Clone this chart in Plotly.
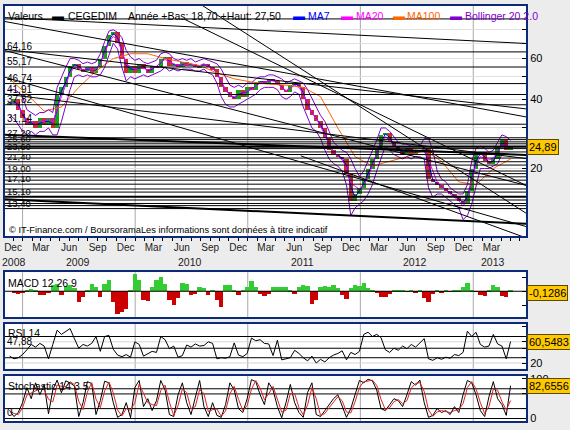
import math
import pandas as pd
import plotly.graph_objects as go

# ---------------- data ----------------
dates = pd.date_range("2008-11-20", periods=117, freq="14D")

close = [38, 40, 36, 33, 31, 32, 30, 33, 31, 33,
         30, 42, 45, 50, 56, 57, 54, 53, 55, 52,
         55, 60, 68, 76, 78, 70, 60, 52, 56, 52,
         57, 54, 52, 56, 55, 60, 61, 56, 57, 55,
         58, 56, 57, 55, 56, 57, 55, 54, 50, 45,
         43, 41, 40, 44, 41, 45, 44, 47, 48, 47,
         49, 48, 46, 44, 43, 46, 47, 45, 40, 36,
         34, 32, 30, 27, 24, 23, 22.5, 22, 19, 14.5,
         15.5, 16.5, 18, 20, 22, 24, 28, 28.5, 26, 25,
         24, 23, 24.5, 23, 24, 23.5, 24.5, 18, 17.5, 17,
         16.5, 16, 15.5, 15, 14.5, 14, 16, 20, 23, 23.5,
         21.5, 21, 22, 25, 26.5, 24, 24.89]

boll_up = [44, 44, 43, 41, 36, 35, 34, 35, 35, 36,
           35, 45, 50, 55, 60, 60, 59, 57, 58, 57,
           58, 63, 71, 79, 80, 78, 74, 65, 61, 59,
           60, 58, 57, 58, 59, 63, 64, 63, 60, 59,
           60, 59, 60, 58, 59, 60, 59, 58, 57, 54,
           50, 46, 45, 46, 45, 47, 47, 49, 50, 50,
           51, 51, 50, 49, 47, 48, 49, 48, 47, 44,
           40, 37, 34, 32, 29, 26, 25, 24, 23.5, 22,
           20, 18.5, 19.5, 21.5, 24, 26.5, 30, 30, 29, 27.5,
           26, 25.5, 25.5, 25, 25, 25, 27, 27, 24, 19.5,
           18, 17.5, 16.5, 16, 15.5, 15.5, 17, 21.5, 24.5, 25,
           24.5, 23.5, 24, 26, 28, 27.5, 26.5]

boll_lo = [34, 33, 31, 29, 28, 29, 28, 29, 29, 30,
           28, 28, 32, 38, 44, 50, 51, 50, 51, 50,
           50, 51, 55, 62, 70, 66, 55, 48, 50, 49,
           50, 51, 50, 51, 52, 53, 55, 53, 54, 53,
           54, 54, 54, 53, 53, 54, 52, 51, 47, 41,
           38, 37, 37, 38, 39, 40, 41, 42, 44, 45,
           45, 45, 44, 41, 40, 41, 43, 42, 37, 33,
           30, 29, 27, 24, 22, 21, 20.5, 19.5, 17, 12.5,
           13.5, 14, 14.5, 15.5, 17, 19.5, 22, 25, 24, 23,
           22.5, 22, 22.5, 22, 22.5, 22.5, 22, 16.5, 15, 15.5,
           15.5, 15, 14.5, 14, 13.5, 12.0, 12.5, 14, 17, 20,
           20, 20, 20.5, 21, 23, 23, 23]

# MA100 read every 4th point of the date grid
ma100 = [49, 42, 35.5, 37, 45, 53, 60, 63, 63, 60,
         58, 56, 52, 49, 47.5, 46.5, 46, 45, 41, 30,
         22.5, 20.5, 21.5, 22.5, 24, 21.5, 17.5, 17, 20, 22]

macd_hist = [0, -0.15, -0.2, -0.1, 0.1, 0.15, 0.1, -0.25, -0.3, -0.1,
             0.4, 0.5, -0.25, 0.35, 0.4, 0.2, -0.75, -0.45, 0.1, 0.5,
             0.3, -0.4, 0.5, 0.75, -0.8, -1.6, -1.45, -1.3, 0.1, 1.17,
             0.8, -0.6, -0.7, 0.3, 0.8, 1.0, 0.5, -0.6, -1.0, -0.5,
             0.6, 0.5, -0.3, -0.2, 0.3, 0.2, -0.3, 0.05, -0.6, -1.1,
             0.4, 0.45, 0.1, -0.3, 0.05, 0.3, 0.7, 0.3, -0.2, -0.35,
             -0.2, 0.25, 0.3, 0.28, 0.25, 0.1, -0.2, 0.3, 0.4, 0.35,
             -0.9, -0.6, 0.3, 0.35, 0.25, 0.4, 0.2, -0.3, -0.55, 0.2,
             0.4, 0.35, 0.6, 0.2, 0.05, -0.15, -0.4, -0.4, -0.2, 0.05,
             0.05, 0.08, -0.05, 0.05, -0.1, 0.05, -0.5, -0.75, -0.2, 0.05,
             -0.1, 0.05, -0.05, 0.05, 0.1, 0.3, 0.55, 0.1, -0.05, -0.3,
             -0.35, 0.1, 0.45, 0.3, -0.35, -0.4, 0.1]

rsi = [33, 28, 30, 36, 45, 55, 50, 57, 52, 28,
       55, 82, 74, 80, 85, 66, 48, 55, 52, 57,
       70, 42, 70, 72, 46, 35, 32, 36, 31, 60,
       55, 33, 37, 42, 40, 70, 64, 47, 52, 31,
       34, 54, 50, 56, 52, 53, 60, 57, 28, 30,
       29, 32, 58, 35, 32, 38, 67, 62, 64, 57,
       56, 34, 63, 26, 28, 30, 44, 38, 30, 24,
       33, 20, 27, 22, 30, 35, 38, 43, 26, 40,
       36, 42, 74, 78, 70, 74, 68, 45, 40, 48,
       44, 52, 47, 55, 50, 58, 66, 28, 25, 30,
       27, 31, 29, 36, 34, 40, 80, 70, 78, 55,
       50, 52, 74, 56, 52, 28, 60.5483]

stoch_k = [20, 5, 15, 40, 78, 50, 90, 60, 85, 12,
           72, 97, 65, 95, 90, 82, 5, 40, 93, 88,
           10, 45, 94, 90, 40, 3, 10, 40, 2, 78,
           96, 30, 50, 20, 45, 96, 72, 10, 5, 60,
           90, 40, 10, 50, 96, 30, 5, 40, 8, 3,
           35, 90, 72, 25, 15, 50, 98, 93, 60, 35,
           90, 72, 30, 2, 40, 86, 40, 15, 3, 66,
           90, 10, 5, 20, 35, 50, 60, 30, 3, 25,
           60, 96, 90, 99, 95, 72, 25, 20, 35, 50,
           45, 30, 60, 93, 84, 97, 40, 3, 8, 25,
           15, 20, 10, 30, 15, 60, 96, 90, 60, 20,
           5, 55, 93, 50, 35, 8, 82.6556]

levels_main = [89.2, 64.16, 55.17, 46.74, 41.91, 37.82, 31.14,
               27.2, 26.7, 26.1, 25.6, 25.0, 24.4, 23.6, 23.0, 22.2,
               21.4, 20.7, 19.5, 19.0, 18.4, 17.8, 17.1, 16.3, 15.8,
               14.6, 14.1, 13.8, 13.4]
levels_labelled = [64.16, 55.17, 46.74, 41.91, 37.82, 31.14,
                   27.2, 25.6, 23.6, 21.4, 19.0, 17.1, 15.1, 13.4]
levels_main_thick = [15.1, 24.89]
levels_rsi = [70, 47.88, 30]
levels_rsi_grey = [60, 20]
levels_stoch = [75, 62, 25, 0]

trend_d0 = ["2008-11-05", "2008-11-05", "2008-11-05", "2008-11-05", "2008-11-05",
            "2008-11-05", "2010-06-09", "2010-07-28", "2011-06-22"]
trend_v0 = [90.4, 86.9, 65.8, 65.0, 49.8, 42.1, 89.0, 104.0, 22.7]
trend_d1 = ["2013-06-21"] * 9
trend_v1 = [69.8, 33.5, 36.3, 16.9, 11.2, 22.1, 16.9, 12.8, 10.0]
stair_d0 = ["2008-11-05", "2008-11-05"]
stair_v0 = [28.0, 14.7]
stair_d1 = ["2013-06-21", "2013-06-21"]
stair_v1 = [22.9, 11.5]

year_starts = ["2009-01-01", "2010-01-01", "2011-01-01", "2012-01-01", "2013-01-01"]
month_ticks = ["2008-12-01", "2009-03-01", "2009-06-01", "2009-09-01", "2009-12-01",
               "2010-03-01", "2010-06-01", "2010-09-01", "2010-12-01", "2011-03-01",
               "2011-06-01", "2011-09-01", "2011-12-01", "2012-03-01", "2012-06-01",
               "2012-09-01", "2012-12-01", "2013-03-01"]
month_text = ["Dec", "Mar", "Jun", "Sep"] * 4 + ["Dec", "Mar"]
year_text = ["2008", "2009", "2010", "2011", "2012", "2013"]
year_at = ["2008-12-04", "2009-07-01", "2010-06-29", "2011-06-28", "2012-06-26", "2013-03-05"]

last_close = 24.89
last_macd = -0.1286
last_rsi = 60.5483
last_stoch = 82.6556

# ---------------- figure ----------------
FONT = "Liberation Sans, Arial, sans-serif"
BORDER = "#0b2a78"
XR = ["2008-11-05", "2013-06-21"]
W = 14 * 86400000
RED, GREEN = "#c83030", "#18a018"

opens = [close[0]] + close[:-1]
body = [abs(c - o) if abs(c - o) > 0.05 else 0.3 for c, o in zip(close, opens)]
base = [min(c, o) for c, o in zip(close, opens)]
ccol = [GREEN if c >= o else RED for c, o in zip(close, opens)]
ma7 = pd.Series(close).rolling(2, min_periods=1).mean().tolist()
ma20 = [(u + l) / 2 for u, l in zip(boll_up, boll_lo)]
stoch_d = pd.Series(stoch_k).rolling(2, min_periods=1).mean().tolist()

fig = go.Figure()

def hlines(vals, xa, ya, color, width):
    xs, ys = [], []
    for v in vals:
        xs += [XR[0], XR[1], None]
        ys += [v, v, None]
    fig.add_trace(go.Scatter(x=xs, y=ys, xaxis=xa, yaxis=ya, mode="lines",
                             line=dict(color=color, width=width), hoverinfo="skip"))

def seglines(d0, v0, d1, v1, width):
    xs, ys = [], []
    for a, b, c, d in zip(d0, v0, d1, v1):
        xs += [a, c, None]
        ys += [b, d, None]
    fig.add_trace(go.Scatter(x=xs, y=ys, xaxis="x", yaxis="y", mode="lines",
                             line=dict(color="black", width=width), hoverinfo="skip"))

# main panel
fig.add_trace(go.Scatter(x=dates, y=ma7, mode="lines", line=dict(color="#0000ff", width=1)))
fig.add_trace(go.Scatter(x=dates, y=ma20, mode="lines", line=dict(color="#ff00ff", width=1)))
fig.add_trace(go.Bar(x=dates, y=body, base=base, width=W, marker=dict(color=ccol, line_width=0)))
fig.add_trace(go.Scatter(x=dates[::4], y=ma100, mode="lines", line=dict(color="#ff6600", width=1)))
fig.add_trace(go.Scatter(x=dates, y=boll_up, mode="lines", line=dict(color="#8000cc", width=1)))
fig.add_trace(go.Scatter(x=dates, y=boll_lo, mode="lines", line=dict(color="#8000cc", width=1)))
hlines(levels_main, "x", "y", "black", 1)
hlines(levels_main_thick, "x", "y", "black", 2)
seglines(trend_d0, trend_v0, trend_d1, trend_v1, 1)
seglines(stair_d0, stair_v0, stair_d1, stair_v1, 2)

# MACD
fig.add_trace(go.Bar(x=dates, y=macd_hist, width=W, xaxis="x2", yaxis="y2",
                     marker=dict(color=["#33cc33" if v >= 0 else "#cc0000" for v in macd_hist], line_width=0)))
hlines([0], "x2", "y2", "black", 1)

# RSI
hlines(levels_rsi_grey, "x3", "y3", "#d4d4d4", 1)
hlines(levels_rsi, "x3", "y3", "black", 1)
fig.add_trace(go.Scatter(x=dates, y=rsi, xaxis="x3", yaxis="y3", mode="lines",
                         line=dict(color="black", width=1)))

# Stochastic
hlines(levels_stoch, "x4", "y4", "black", 1)
fig.add_trace(go.Scatter(x=dates, y=stoch_k, xaxis="x4", yaxis="y4", mode="lines",
                         line=dict(color="black", width=1)))
fig.add_trace(go.Scatter(x=dates, y=stoch_d, xaxis="x4", yaxis="y4", mode="lines",
                         line=dict(color="#dd2222", width=1)))

H = 418.5
def py(p):
    return (421.5 - p) / H
def px(p):
    return (p - 3) / 523.0

xcommon = dict(type="date", range=XR, showgrid=False, zeroline=False, showline=True,
               mirror=True, linecolor=BORDER, linewidth=2)
ycommon = dict(side="right", showgrid=False, zeroline=False, showline=True, mirror=True,
               linecolor=BORDER, linewidth=2, ticks="inside", ticklen=4, tickcolor="black",
               tickfont=dict(family=FONT, size=11, color="black"))

layout = dict(
    width=570, height=430, margin=dict(l=3, r=44, t=3, b=8.5),
    paper_bgcolor="#ececec", plot_bgcolor="white", showlegend=False, bargap=0,
    font=dict(family=FONT, size=10, color="black"),
    xaxis=dict(**xcommon, anchor="y", tickmode="array", tickvals=month_ticks, ticktext=month_text,
               ticks="outside", ticklen=3, tickcolor="black", ticklabelstandoff=-2,
               tickfont=dict(family=FONT, size=10, color="#222"),
               minor=dict(dtick="M1", tick0="2008-12-01", ticks="outside", ticklen=3, tickcolor="black")),
    xaxis2=dict(**xcommon, anchor="y2", matches="x", showticklabels=False),
    xaxis3=dict(**xcommon, anchor="y3", matches="x", showticklabels=False),
    xaxis4=dict(**xcommon, anchor="y4", matches="x", showticklabels=False),
    yaxis=dict(**{**ycommon, "showgrid": True}, type="log", domain=[py(235), 1], anchor="x",
               range=[1.0078, 2.0065], gridcolor="#e0e0e0",
               tickvals=[20, 30, 40, 50, 60, 70, 80], ticktext=["20", "", "40", "", "60", "", ""]),
    yaxis2=dict(**ycommon, domain=[py(316.7), py(271.5)], anchor="x2", range=[-1.82, 1.34],
                tickvals=[-1, 0, 1], showticklabels=False),
    yaxis3=dict(**ycommon, domain=[py(368.7), py(323.3)], anchor="x3", range=[9.4, 94.3],
                tickvals=[20, 30, 47.88, 60, 70, 88], ticktext=["20", "", "", "", "", ""]),
    yaxis4=dict(**ycommon, domain=[0, py(376)], anchor="x4", range=[-6.25, 107.5],
                tickvals=[0, 25, 62, 75, 100], ticktext=["0", "", "", "", "100"]),
)
fig.update_layout(**layout)

shapes = []
for d in year_starts:
    for yr in ["y", "y2", "y3", "y4"]:
        shapes.append(dict(type="line", xref="x", yref=yr + " domain", x0=d, x1=d, y0=0, y1=1,
                           line=dict(color="#a8a8a8", width=1), layer="below"))
fig.update_layout(shapes=shapes)

def fmt(v, n):
    return f"{v:.{n}f}".replace(".", ",")

ann = []
def text(x, y, s, size=10.5, color="black", xanchor="left", yanchor="middle", xref="paper", yref="paper", **kw):
    ann.append(dict(x=x, y=y, text=s, xref=xref, yref=yref, showarrow=False, xanchor=xanchor,
                    yanchor=yanchor, font=dict(family=FONT, size=size, color=color), **kw))

# header legend row
ty = py(13.5)
text(px(4), ty, "Valeurs")
text(px(48), ty, "▬", color="black", size=12)
text(px(64), ty, "CEGEDIM")
text(px(124), ty, "Année +Bas: 18,70 +Haut: 27,50")
for x0, s, c in [(290, "MA7", "#0000ff"), (338, "MA20", "#ff00ff"),
                 (390, "MA100", "#ff6600"), (448, "Bollinger 20 2.0", "#8000cc")]:
    text(px(x0), ty, "▬", color=c, size=12)
    text(px(x0 + 15), ty, s, color=c)

# level labels (main)
for v in levels_labelled:
    text(px(3), math.log10(v), fmt(v, 2), size=10 if v > 30 else 9.5, yref="y",
         yanchor="bottom", yshift=-2)
text(px(5), py(229), "© IT-Finance.com / BoursoramaLes informations sont données à titre indicatif", size=9.3)

# year labels
for d, s in zip(year_at, year_text):
    text(d, py(261), s, size=10.5, xref="x", xanchor="center", color="#222")

# panel labels
text(px(4), py(282), "MACD 12 26 9")
text(px(4), py(333), "RSI 14")
text(px(3), 47.88, "47,88", size=10, yref="y3", yanchor="bottom", yshift=-1)
text(px(4), py(386), "Stochastic 14 3 5")
text(px(3), 0, "0", size=10, yref="y4", yanchor="bottom", yshift=-1)

# value boxes
box = dict(bgcolor="#ffc800", bordercolor="#5a4a00", borderwidth=1, borderpad=1)
text(px(527), math.log10(last_close), fmt(last_close, 2), size=11, yref="y", **box)
text(px(527), last_macd, fmt(last_macd, 4), size=11, yref="y2", **box)
text(px(527), last_rsi, fmt(last_rsi, 4), size=11, yref="y3", **box)
text(px(527), last_stoch, fmt(last_stoch, 4), size=11, yref="y4", **box)

fig.update_layout(annotations=ann)
fig.write_html("out.html")
